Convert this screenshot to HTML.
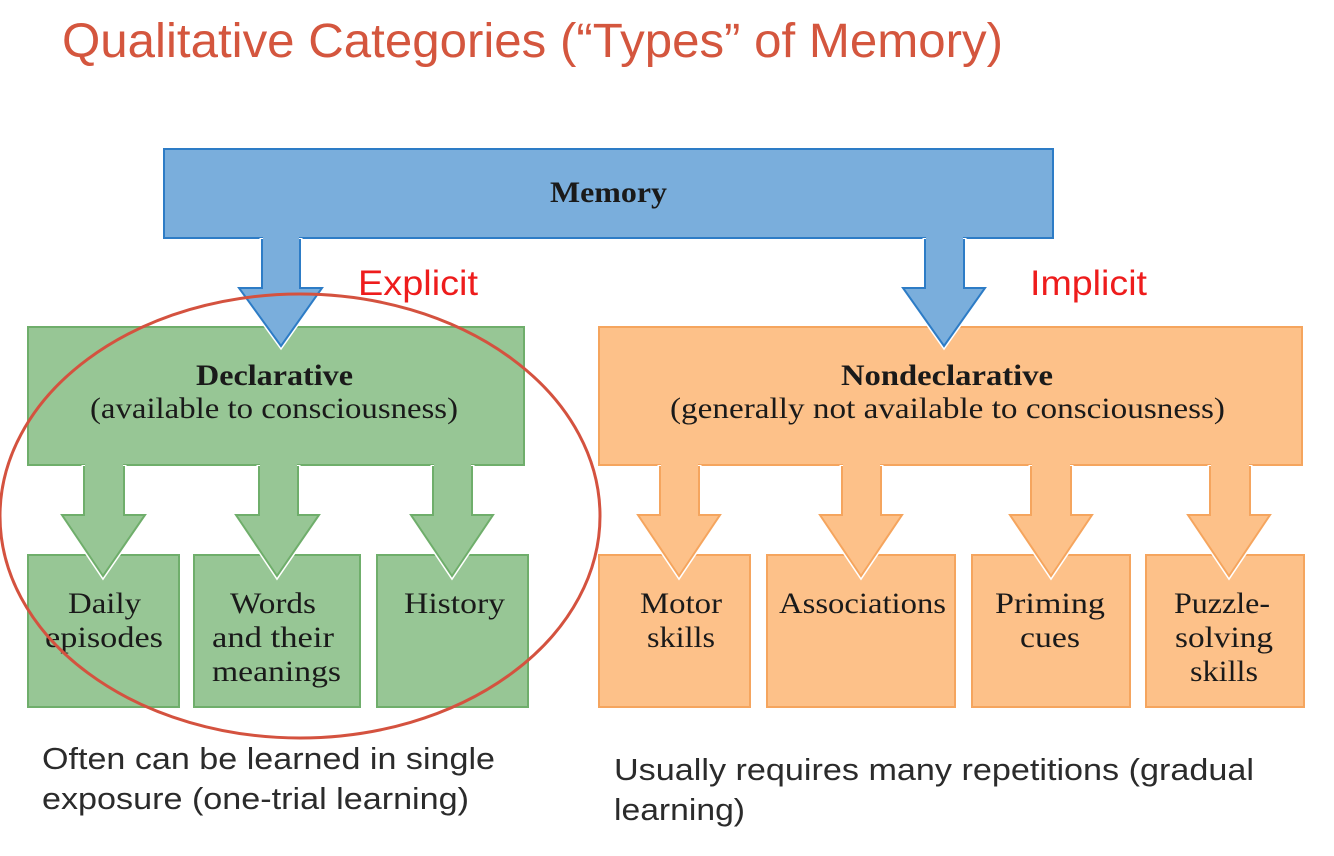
<!DOCTYPE html>
<html><head><style>
html,body{margin:0;padding:0;background:#fff;width:1334px;height:856px;overflow:hidden}
</style></head><body>
<svg width="1334" height="856" viewBox="0 0 1334 856" xmlns="http://www.w3.org/2000/svg">
<text x="62" y="57" font-family="Liberation Sans, sans-serif" font-size="48" fill="#d4563e" textLength="941" lengthAdjust="spacingAndGlyphs">Qualitative Categories (“Types” of Memory)</text>

<g stroke-width="2">
<rect x="164" y="149" width="889" height="89" fill="#7aaedc" stroke="#2d7cc6"/>
<rect x="28" y="327" width="496" height="138" fill="#97c695" stroke="#6fae6b"/>
<rect x="599" y="327" width="703" height="138" fill="#fdc189" stroke="#f5a55e"/>
<g fill="#97c695" stroke="#6fae6b">
<rect x="28" y="555" width="151" height="152"/>
<rect x="194" y="555" width="166" height="152"/>
<rect x="377" y="555" width="151" height="152"/>
</g>
<g fill="#fdc189" stroke="#f5a55e">
<rect x="599" y="555" width="151" height="152"/>
<rect x="767" y="555" width="188" height="152"/>
<rect x="972" y="555" width="158" height="152"/>
<rect x="1146" y="555" width="158" height="152"/>
</g>
</g>

<g stroke="#fff" stroke-width="5" stroke-linejoin="miter">
<path d="M262 238 V288 H239 L281 346 L322 288 H300 V238" fill="#7aaedc"/>
<path d="M925 238 V288 H903 L944 346 L985 288 H964 V238" fill="#7aaedc"/>
<path d="M84 465 V515 H62 L103 576 L145 515 H124 V465" fill="#97c695"/>
<path d="M259 465 V515 H236 L277 576 L319 515 H298 V465" fill="#97c695"/>
<path d="M433 465 V515 H411 L452 576 L493 515 H472 V465" fill="#97c695"/>
<path d="M660 465 V515 H638 L679 576 L720 515 H699 V465" fill="#fdc189"/>
<path d="M842 465 V515 H820 L861 576 L902 515 H881 V465" fill="#fdc189"/>
<path d="M1031 465 V515 H1010 L1051 576 L1092 515 H1071 V465" fill="#fdc189"/>
<path d="M1210 465 V515 H1188 L1229 576 L1270 515 H1250 V465" fill="#fdc189"/>
</g>
<g stroke-width="2">
<path d="M262 239 V288 H239 L281 346 L322 288 H300 V239" fill="#7aaedc" stroke="#2d7cc6"/>
<path d="M925 239 V288 H903 L944 346 L985 288 H964 V239" fill="#7aaedc" stroke="#2d7cc6"/>
<g fill="#97c695" stroke="#6fae6b">
<path d="M84 466 V515 H62 L103 576 L145 515 H124 V466"/>
<path d="M259 466 V515 H236 L277 576 L319 515 H298 V466"/>
<path d="M433 466 V515 H411 L452 576 L493 515 H472 V466"/>
</g>
<g fill="#fdc189" stroke="#f5a55e">
<path d="M660 466 V515 H638 L679 576 L720 515 H699 V466"/>
<path d="M842 466 V515 H820 L861 576 L902 515 H881 V466"/>
<path d="M1031 466 V515 H1010 L1051 576 L1092 515 H1071 V466"/>
<path d="M1210 466 V515 H1188 L1229 576 L1270 515 H1250 V466"/>
</g>
</g>
<rect x="263" y="236" width="36" height="4" fill="#7aaedc"/>
<rect x="926" y="236" width="37" height="4" fill="#7aaedc"/>
<g fill="#97c695"><rect x="85" y="462" width="38" height="5"/><rect x="260" y="462" width="37" height="5"/><rect x="434" y="462" width="37" height="5"/></g>
<g fill="#fdc189"><rect x="661" y="462" width="37" height="5"/><rect x="843" y="462" width="37" height="5"/><rect x="1032" y="462" width="38" height="5"/><rect x="1211" y="462" width="38" height="5"/></g>

<g font-family="Liberation Serif, serif" fill="#1a1a1a" font-size="30">
<text x="550" y="202" font-weight="bold" textLength="117" lengthAdjust="spacingAndGlyphs">Memory</text>
<text x="196" y="385" font-weight="bold" textLength="157" lengthAdjust="spacingAndGlyphs">Declarative</text>
<text x="90" y="418" textLength="368" lengthAdjust="spacingAndGlyphs">(available to consciousness)</text>
<text x="841" y="385" font-weight="bold" textLength="212" lengthAdjust="spacingAndGlyphs">Nondeclarative</text>
<text x="670" y="418" textLength="555" lengthAdjust="spacingAndGlyphs">(generally not available to consciousness)</text>
<text x="68" y="613" textLength="73" lengthAdjust="spacingAndGlyphs">Daily</text>
<text x="45" y="647" textLength="118" lengthAdjust="spacingAndGlyphs">episodes</text>
<text x="230" y="613" textLength="86" lengthAdjust="spacingAndGlyphs">Words</text>
<text x="212" y="647" textLength="122" lengthAdjust="spacingAndGlyphs">and their</text>
<text x="212" y="681" textLength="129" lengthAdjust="spacingAndGlyphs">meanings</text>
<text x="404" y="613" textLength="101" lengthAdjust="spacingAndGlyphs">History</text>
<text x="640" y="613" textLength="82" lengthAdjust="spacingAndGlyphs">Motor</text>
<text x="647" y="647" textLength="68" lengthAdjust="spacingAndGlyphs">skills</text>
<text x="779" y="613" textLength="167" lengthAdjust="spacingAndGlyphs">Associations</text>
<text x="995" y="613" textLength="110" lengthAdjust="spacingAndGlyphs">Priming</text>
<text x="1020" y="647" textLength="60" lengthAdjust="spacingAndGlyphs">cues</text>
<text x="1174" y="613" textLength="96" lengthAdjust="spacingAndGlyphs">Puzzle-</text>
<text x="1175" y="647" textLength="98" lengthAdjust="spacingAndGlyphs">solving</text>
<text x="1190" y="681" textLength="68" lengthAdjust="spacingAndGlyphs">skills</text>
</g>

<ellipse cx="300" cy="516" rx="300" ry="222" fill="none" stroke="#d4523f" stroke-width="3"/>

<g font-family="Liberation Sans, sans-serif" font-size="35" fill="#ee1c1c">
<text x="358" y="295" textLength="120" lengthAdjust="spacingAndGlyphs">Explicit</text>
<text x="1030" y="295" textLength="117" lengthAdjust="spacingAndGlyphs">Implicit</text>
</g>
<g font-family="Liberation Sans, sans-serif" font-size="31" fill="#2b2b2b">
<text x="42" y="769" textLength="453" lengthAdjust="spacingAndGlyphs">Often can be learned in single</text>
<text x="42" y="809" textLength="427" lengthAdjust="spacingAndGlyphs">exposure (one-trial learning)</text>
<text x="614" y="780" textLength="640" lengthAdjust="spacingAndGlyphs">Usually requires many repetitions (gradual</text>
<text x="614" y="820" textLength="131" lengthAdjust="spacingAndGlyphs">learning)</text>
</g>
</svg>
</body></html>
